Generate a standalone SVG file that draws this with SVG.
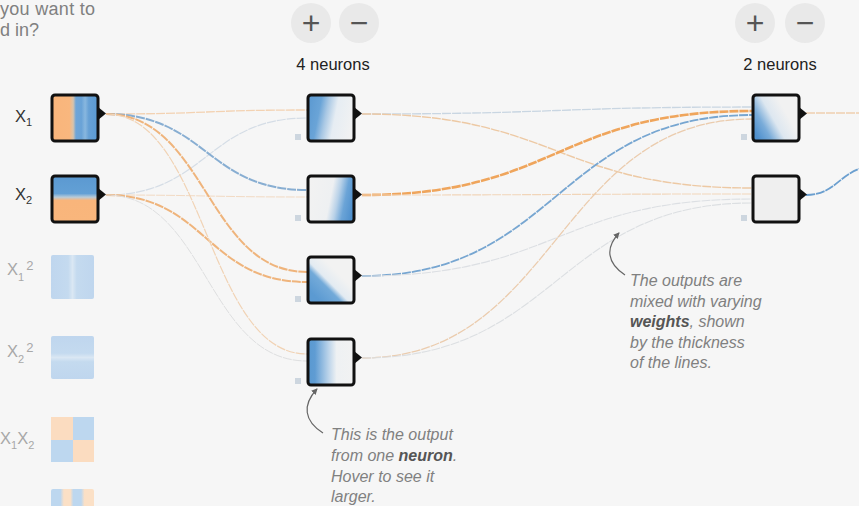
<svg xmlns="http://www.w3.org/2000/svg" width="859" height="506" viewBox="0 0 859 506">
<style>
text{font-family:"Liberation Sans",Arial,sans-serif}
.hint{font-size:18px;fill:#808080}
.cnt{font-size:16.5px;fill:#222;text-anchor:middle}
.btn{fill:#e9e9e9}
.bt{font-size:32px;fill:#555;text-anchor:middle}
.lbl{font-size:16.5px;fill:#333}
.off{fill:#a8a8a8}
.note{font-size:16px;fill:#808080;font-style:italic}
.note tspan.b{font-weight:bold;fill:#555}
.node{stroke:#111;stroke-width:3}
.tri{fill:#111}
.bias{fill:#cdd6df}
.link{fill:none;stroke-dasharray:9 1}
.ann{fill:none;stroke:#666;stroke-width:1.2}
</style>
<defs>
<linearGradient id="gX1" x1="0" y1="0" x2="1" y2="0">
<stop offset="0" stop-color="#f9b57b"/><stop offset="0.38" stop-color="#f9b77e"/><stop offset="0.46" stop-color="#d9c3aa"/><stop offset="0.52" stop-color="#6ea5d8"/><stop offset="0.64" stop-color="#6aa3d7"/><stop offset="0.72" stop-color="#88b7df"/><stop offset="0.8" stop-color="#66a0d5"/><stop offset="1" stop-color="#5b9ad2"/>
</linearGradient>
<linearGradient id="gX2" x1="0" y1="0" x2="0" y2="1">
<stop offset="0" stop-color="#5b99d1"/><stop offset="0.38" stop-color="#63a0d5"/><stop offset="0.46" stop-color="#b8cbd9"/><stop offset="0.53" stop-color="#f9b57b"/><stop offset="1" stop-color="#f9b67c"/>
</linearGradient>
<linearGradient id="gS1" x1="0" y1="0" x2="1" y2="0">
<stop offset="0" stop-color="#bfd6ee"/><stop offset="0.4" stop-color="#c4daef"/><stop offset="0.5" stop-color="#dae7f3"/><stop offset="0.6" stop-color="#c4daef"/><stop offset="1" stop-color="#bfd6ee"/>
</linearGradient>
<linearGradient id="gS2" x1="0" y1="0" x2="0" y2="1">
<stop offset="0" stop-color="#bfd6ee"/><stop offset="0.4" stop-color="#c4daef"/><stop offset="0.5" stop-color="#dae7f3"/><stop offset="0.6" stop-color="#c4daef"/><stop offset="1" stop-color="#bfd6ee"/>
</linearGradient>
<linearGradient id="gSin" x1="0" y1="0" x2="1" y2="0">
<stop offset="0" stop-color="#bdd7ef"/><stop offset="0.22" stop-color="#bdd7ef"/><stop offset="0.3" stop-color="#fbe0c6"/><stop offset="0.45" stop-color="#fbe0c6"/><stop offset="0.52" stop-color="#bdd7ef"/><stop offset="0.7" stop-color="#bdd7ef"/><stop offset="0.78" stop-color="#fbe0c6"/><stop offset="1" stop-color="#fbe0c6"/>
</linearGradient>
<linearGradient id="gH1" x1="0" y1="0.4" x2="1" y2="0.6">
<stop offset="0" stop-color="#5e9bd2"/><stop offset="0.22" stop-color="#6aa4d7"/><stop offset="0.38" stop-color="#a9c8e4"/><stop offset="0.58" stop-color="#e6edf3"/><stop offset="1" stop-color="#f2f2f2"/>
</linearGradient>
<linearGradient id="gH2" x1="0" y1="0.4" x2="1" y2="0.6">
<stop offset="0" stop-color="#f2f2f2"/><stop offset="0.48" stop-color="#eef0f2"/><stop offset="0.64" stop-color="#b8d1e8"/><stop offset="0.8" stop-color="#6ba4d7"/><stop offset="1" stop-color="#4f90cd"/>
</linearGradient>
<linearGradient id="gH3" x1="0.15" y1="0.85" x2="0.65" y2="0.35">
<stop offset="0" stop-color="#5b9ad2"/><stop offset="0.45" stop-color="#73aad9"/><stop offset="0.62" stop-color="#e3ebf2"/><stop offset="1" stop-color="#f2f2f2"/>
</linearGradient>
<linearGradient id="gH4" x1="0" y1="0" x2="1" y2="0">
<stop offset="0" stop-color="#5a99d1"/><stop offset="0.15" stop-color="#5f9cd3"/><stop offset="0.45" stop-color="#bcd4ea"/><stop offset="0.62" stop-color="#eef1f3"/><stop offset="1" stop-color="#f2f2f2"/>
</linearGradient>
<linearGradient id="gO1" x1="0" y1="0.75" x2="0.7" y2="0.35">
<stop offset="0" stop-color="#4f90cd"/><stop offset="0.3" stop-color="#7aacd9"/><stop offset="0.62" stop-color="#dde7f0"/><stop offset="1" stop-color="#f1f1f1"/>
</linearGradient>
<marker id="ah" viewBox="0 0 8 8" refX="6" refY="4" markerWidth="7" markerHeight="7" orient="auto" markerUnits="userSpaceOnUse">
<path d="M0,0.5 L7,4 L0,7.5 z" fill="#666"/>
</marker>
</defs>
<rect width="859" height="506" fill="#f6f6f6"/>

<g id="header">
<text class="hint" x="0" y="15" letter-spacing="0.3">you want to</text>
<text class="hint" x="0" y="36">d in?</text>
</g>

<g id="layer1-controls">
<circle class="btn" cx="311" cy="23" r="20"/><text class="bt" x="311" y="34">+</text>
<circle class="btn" cx="359" cy="23" r="20"/><text class="bt" x="359" y="34">−</text>
<text class="cnt" x="333" y="70">4 neurons</text>
</g>
<g id="layer2-controls">
<circle class="btn" cx="755" cy="23" r="20"/><text class="bt" x="755" y="34">+</text>
<circle class="btn" cx="805" cy="23" r="20"/><text class="bt" x="805" y="34">−</text>
<text class="cnt" x="780" y="70">2 neurons</text>
</g>

<g id="connectors">
<path class="link" d="M106,114 C206.5,114 206.5,110 307,110" stroke="#f3d2b2" stroke-width="1.3"/>
<path class="link" d="M106,195 C206.5,195 206.5,118 307,118" stroke="#d5dde6" stroke-width="1.2"/>
<path class="link" d="M106,114 C206.5,114 206.5,190 307,190" stroke="#88aed2" stroke-width="2"/>
<path class="link" d="M106,195 C206.5,195 206.5,197 307,197" stroke="#f2dac3" stroke-width="1"/>
<path class="link" d="M106,114 C206.5,114 206.5,272 307,272" stroke="#efb47c" stroke-width="2"/>
<path class="link" d="M106,195 C206.5,195 206.5,282 307,282" stroke="#efb47c" stroke-width="2"/>
<path class="link" d="M106,114 C206.5,114 206.5,354 307,354" stroke="#f1d3b5" stroke-width="1.2"/>
<path class="link" d="M106,195 C206.5,195 206.5,361 307,361" stroke="#dedfe0" stroke-width="1"/>
<path class="link" d="M362,114 C557,114 557,107 752,107" stroke="#c9d6e2" stroke-width="1.3"/>
<path class="link" d="M362,114 C557,114 557,188 752,188" stroke="#edc9a4" stroke-width="1.4"/>
<path class="link" d="M362,195 C557,195 557,111 752,111" stroke="#efa55c" stroke-width="2.6"/>
<path class="link" d="M362,195 C557,195 557,194 752,194" stroke="#f1d5b9" stroke-width="1.1"/>
<path class="link" d="M362,276 C557,276 557,115 752,115" stroke="#77a6d1" stroke-width="1.8"/>
<path class="link" d="M362,276 C557,276 557,199 752,199" stroke="#dcdfe3" stroke-width="1.1"/>
<path class="link" d="M362,358 C557,358 557,119 752,119" stroke="#ebccae" stroke-width="1.3"/>
<path class="link" d="M362,358 C557,358 557,203 752,203" stroke="#dcdfe2" stroke-width="1.1"/>
<path class="link" d="M806,113 L859,113" stroke="#efcfb0" stroke-width="1.3"/>
<path class="link" d="M806,195 C838,195 840,168 874,166" stroke="#6b9fcf" stroke-width="1.8"/>
</g>

<g id="input-x1">
<text class="lbl" x="15" y="122">X<tspan font-size="11" dy="4">1</tspan></text>
<rect class="node" x="52" y="95" width="46" height="46" rx="3" fill="url(#gX1)"/>
<polygon class="tri" points="98,107 106,113.5 98,120"/>
</g>
<g id="input-x2">
<text class="lbl" x="15" y="200">X<tspan font-size="11" dy="4">2</tspan></text>
<rect class="node" x="52" y="176" width="46" height="46" rx="3" fill="url(#gX2)"/>
<polygon class="tri" points="98,188 106,194.5 98,201"/>
</g>
<g id="input-x1sq">
<text class="lbl off" x="7" y="275">X<tspan font-size="11" dy="6">1</tspan><tspan font-size="13" dx="2" dy="-11">2</tspan></text>
<rect x="51" y="255" width="43" height="44" rx="2" fill="url(#gS1)"/>
</g>
<g id="input-x2sq">
<text class="lbl off" x="7" y="357">X<tspan font-size="11" dy="6">2</tspan><tspan font-size="13" dx="2" dy="-11">2</tspan></text>
<rect x="51" y="336" width="43" height="43" rx="2" fill="url(#gS2)"/>
</g>
<g id="input-x1x2">
<text class="lbl off" x="0" y="444">X<tspan font-size="11" dy="5">1</tspan><tspan dy="-5">X</tspan><tspan font-size="11" dy="5">2</tspan></text>
<rect x="51" y="417" width="22" height="23" fill="#fbdcc0"/>
<rect x="73" y="417" width="21" height="23" fill="#bdd7ef"/>
<rect x="51" y="440" width="22" height="22" fill="#bdd7ef"/>
<rect x="73" y="440" width="21" height="22" fill="#fbdcc0"/>
</g>
<g id="input-sin">
<rect x="51" y="489" width="43" height="20" rx="2" fill="url(#gSin)"/>
</g>

<g id="h1">
<rect class="bias" x="295" y="134" width="6" height="6"/>
<rect class="node" x="308" y="95" width="46" height="46" rx="3" fill="url(#gH1)"/>
<polygon class="tri" points="354,107 362,113.5 354,120"/>
</g>
<g id="h2">
<rect class="bias" x="295" y="215" width="6" height="6"/>
<rect class="node" x="308" y="176" width="46" height="46" rx="3" fill="url(#gH2)"/>
<polygon class="tri" points="354,188 362,194.5 354,201"/>
</g>
<g id="h3">
<rect class="bias" x="295" y="296" width="6" height="6"/>
<rect class="node" x="308" y="257" width="46" height="46" rx="3" fill="url(#gH3)"/>
<polygon class="tri" points="354,269 362,275.5 354,282"/>
</g>
<g id="h4">
<rect class="bias" x="295" y="378" width="6" height="6"/>
<rect class="node" x="308" y="339" width="46" height="46" rx="3" fill="url(#gH4)"/>
<polygon class="tri" points="354,351 362,357.5 354,364"/>
</g>
<g id="o1">
<rect class="bias" x="741" y="134" width="6" height="6"/>
<rect class="node" x="753" y="95" width="46" height="46" rx="3" fill="url(#gO1)"/>
<polygon class="tri" points="799,107 807,113.5 799,120"/>
</g>
<g id="o2">
<rect class="bias" x="741" y="215" width="6" height="6"/>
<rect class="node" x="753" y="176" width="46" height="46" rx="3" fill="#efefef"/>
<polygon class="tri" points="799,188 807,194.5 799,201"/>
</g>

<g id="note-neuron">
<path class="ann" d="M323,433 C304,421 302,405 317,389" marker-end="url(#ah)"/>
<text class="note" x="331" y="440">This is the output</text>
<text class="note" x="331" y="461">from one <tspan class="b">neuron</tspan>.</text>
<text class="note" x="331" y="482">Hover to see it</text>
<text class="note" x="331" y="502">larger.</text>
</g>
<g id="note-weights">
<path class="ann" d="M625,275 C607,263 605,248 619,233" marker-end="url(#ah)"/>
<text class="note" x="630" y="286">The outputs are</text>
<text class="note" x="630" y="306.5">mixed with varying</text>
<text class="note" x="630" y="327"><tspan class="b">weights</tspan>, shown</text>
<text class="note" x="630" y="347.5">by the thickness</text>
<text class="note" x="630" y="368">of the lines.</text>
</g>
</svg>
